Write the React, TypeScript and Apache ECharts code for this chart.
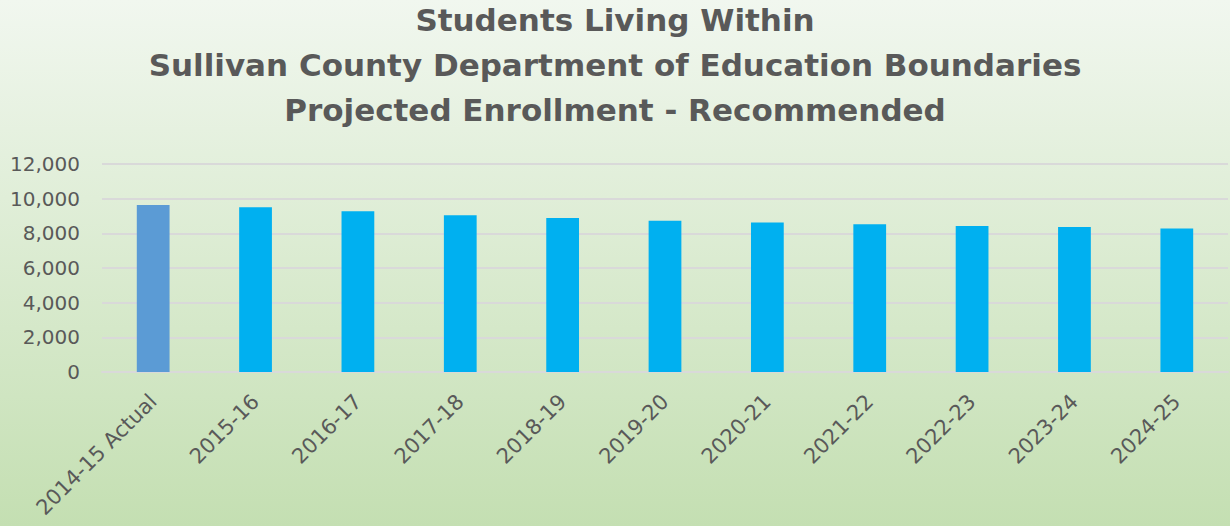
import React, { useEffect, useRef } from "react";
import * as echarts from "echarts";

const titleLines = [
  "Students Living Within",
  "Sullivan County Department of Education Boundaries",
  "Projected Enrollment - Recommended",
];
const categories = [
  "2014-15 Actual",
  "2015-16",
  "2016-17",
  "2017-18",
  "2018-19",
  "2019-20",
  "2020-21",
  "2021-22",
  "2022-23",
  "2023-24",
  "2024-25",
];
const enrollment = [9640, 9500, 9270, 9050, 8880, 8720, 8630, 8530, 8420, 8360, 8280];
const yTicks = { min: 0, max: 12000, interval: 2000 };

export default function App() {
  const ref = useRef<HTMLDivElement>(null);
  useEffect(() => {
    if (!ref.current) return;
    const chart = echarts.init(ref.current, null, { renderer: "svg" });
    chart.setOption({
      animation: false,
      backgroundColor: {
        type: "linear",
        x: 0,
        y: 0,
        x2: 0,
        y2: 1,
        colorStops: [
          { offset: 0, color: "#F1F7EF" },
          { offset: 1, color: "#C4DFB2" },
        ],
      },
      title: {
        text: titleLines.join("\n"),
        left: "center",
        top: -3,
        padding: 0,
        textStyle: {
          fontFamily: "DejaVu Sans",
          fontWeight: "bold",
          fontSize: 31,
          lineHeight: 45,
          color: "#595959",
        },
      },
      grid: {
        left: 102,
        right: 2,
        top: 164,
        bottom: 154,
        containLabel: false,
        outerBoundsMode: "none",
      },
      xAxis: {
        type: "category",
        data: categories,
        axisLine: { show: true, lineStyle: { color: "#D9D9D9", width: 2 } },
        axisTick: { show: false },
        axisLabel: {
          rotate: 45,
          interval: 0,
          margin: 26,
          fontFamily: "DejaVu Sans",
          fontSize: 21,
          color: "#595959",
        },
      },
      yAxis: {
        type: "value",
        min: yTicks.min,
        max: yTicks.max,
        interval: yTicks.interval,
        axisLine: { show: false },
        axisTick: { show: false },
        splitLine: { lineStyle: { color: "#D9D9D9", width: 2 } },
        axisLabel: {
          margin: 22,
          fontFamily: "DejaVu Sans",
          fontSize: 20,
          color: "#595959",
          formatter: (v: number) => v.toLocaleString("en-US"),
        },
      },
      series: [
        {
          type: "bar",
          data: enrollment.map((v, i) => ({
            value: v,
            itemStyle: { color: i === 0 ? "#5B9BD5" : "#00B0F0" },
          })),
          barWidth: "32%",
        },
      ],
    });
    return () => chart.dispose();
  }, []);
  return (
    <div
      ref={ref}
      style={{ position: "fixed", left: 0, top: 0, width: 1230, height: 526 }}
    />
  );
}
